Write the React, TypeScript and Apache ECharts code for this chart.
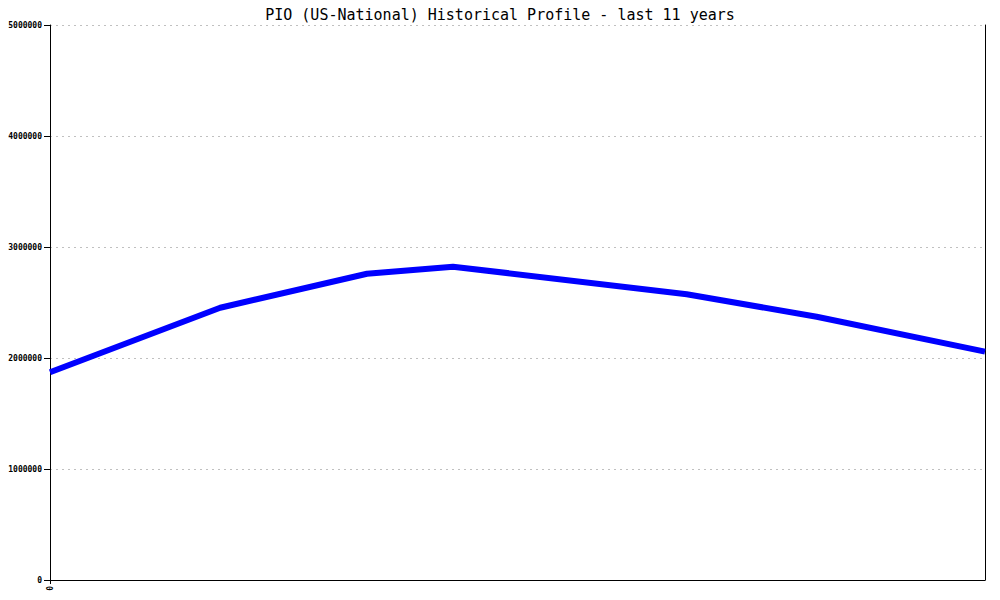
import React, { useEffect, useRef } from "react";
import * as echarts from "echarts";

const titleText = "PIO (US-National) Historical Profile - last 11 years";
// x positions in years from the start of the 11-year window
const years = [0, 1.82, 3.39, 4.31, 6.81, 8.2, 10];
const values = [1871000, 2453000, 2759000, 2823000, 2574000, 2372000, 2057000];
const yTicks = [0, 1000000, 2000000, 3000000, 4000000, 5000000];

export default function App() {
  const ref = useRef<HTMLDivElement>(null);
  useEffect(() => {
    if (!ref.current) return;
    const chart = echarts.init(ref.current, null, { renderer: "svg" });
    const data = years.map((x, i) => [x, values[i]]);
    chart.setOption({
      animation: false,
      backgroundColor: "#ffffff",
      title: {
        text: titleText,
        left: "center",
        top: 2,
        textStyle: {
          fontFamily: "DejaVu Sans Mono",
          fontSize: 15,
          fontWeight: "normal",
          color: "#000000",
        },
      },
      grid: {
        left: 50,
        right: 15,
        top: 25,
        bottom: 20,
        containLabel: false,
        outerBoundsMode: "none",
      },
      xAxis: {
        type: "value",
        min: 0,
        max: 10,
        axisLine: { show: true, onZero: false, lineStyle: { color: "#000", width: 1 } },
        axisTick: { show: true, length: 4, customValues: [0], lineStyle: { color: "#000" } },
        axisLabel: {
          show: true,
          customValues: [0],
          rotate: 90,
          margin: 6,
          formatter: (v: number) => String(v),
          fontFamily: "DejaVu Sans Mono",
          fontSize: 8,
          fontWeight: "bold",
          color: "#000",
        },
        splitLine: { show: false },
      },
      yAxis: [
        {
          type: "value",
          min: 0,
          max: 5000000,
          interval: 1000000,
          axisLine: { show: true, lineStyle: { color: "#000", width: 1 } },
          axisTick: { show: true, length: 6, lineStyle: { color: "#000" } },
          axisLabel: {
            margin: 8,
            customValues: yTicks,
            formatter: (v: number) => String(v),
            fontFamily: "DejaVu Sans Mono",
            fontSize: 8,
            fontWeight: "bold",
            color: "#000",
          },
          splitLine: {
            show: true,
            lineStyle: { color: "#c0c0c0", type: [2, 4], width: 1 },
          },
        },
        {
          type: "value",
          position: "right",
          min: 0,
          max: 5000000,
          interval: 1000000,
          axisLine: { show: true, lineStyle: { color: "#000", width: 1 } },
          axisTick: { show: false },
          axisLabel: { show: false },
          splitLine: { show: false },
        },
      ],
      series: [
        {
          type: "line",
          yAxisIndex: 0,
          data,
          showSymbol: false,
          symbol: "none",
          lineStyle: { color: "#0000ff", width: 6 },
          itemStyle: { color: "#0000ff" },
        },
      ],
    });
    return () => chart.dispose();
  }, []);
  return (
    <div
      ref={ref}
      style={{ position: "fixed", left: 0, top: 0, width: 1000, height: 600 }}
    />
  );
}
